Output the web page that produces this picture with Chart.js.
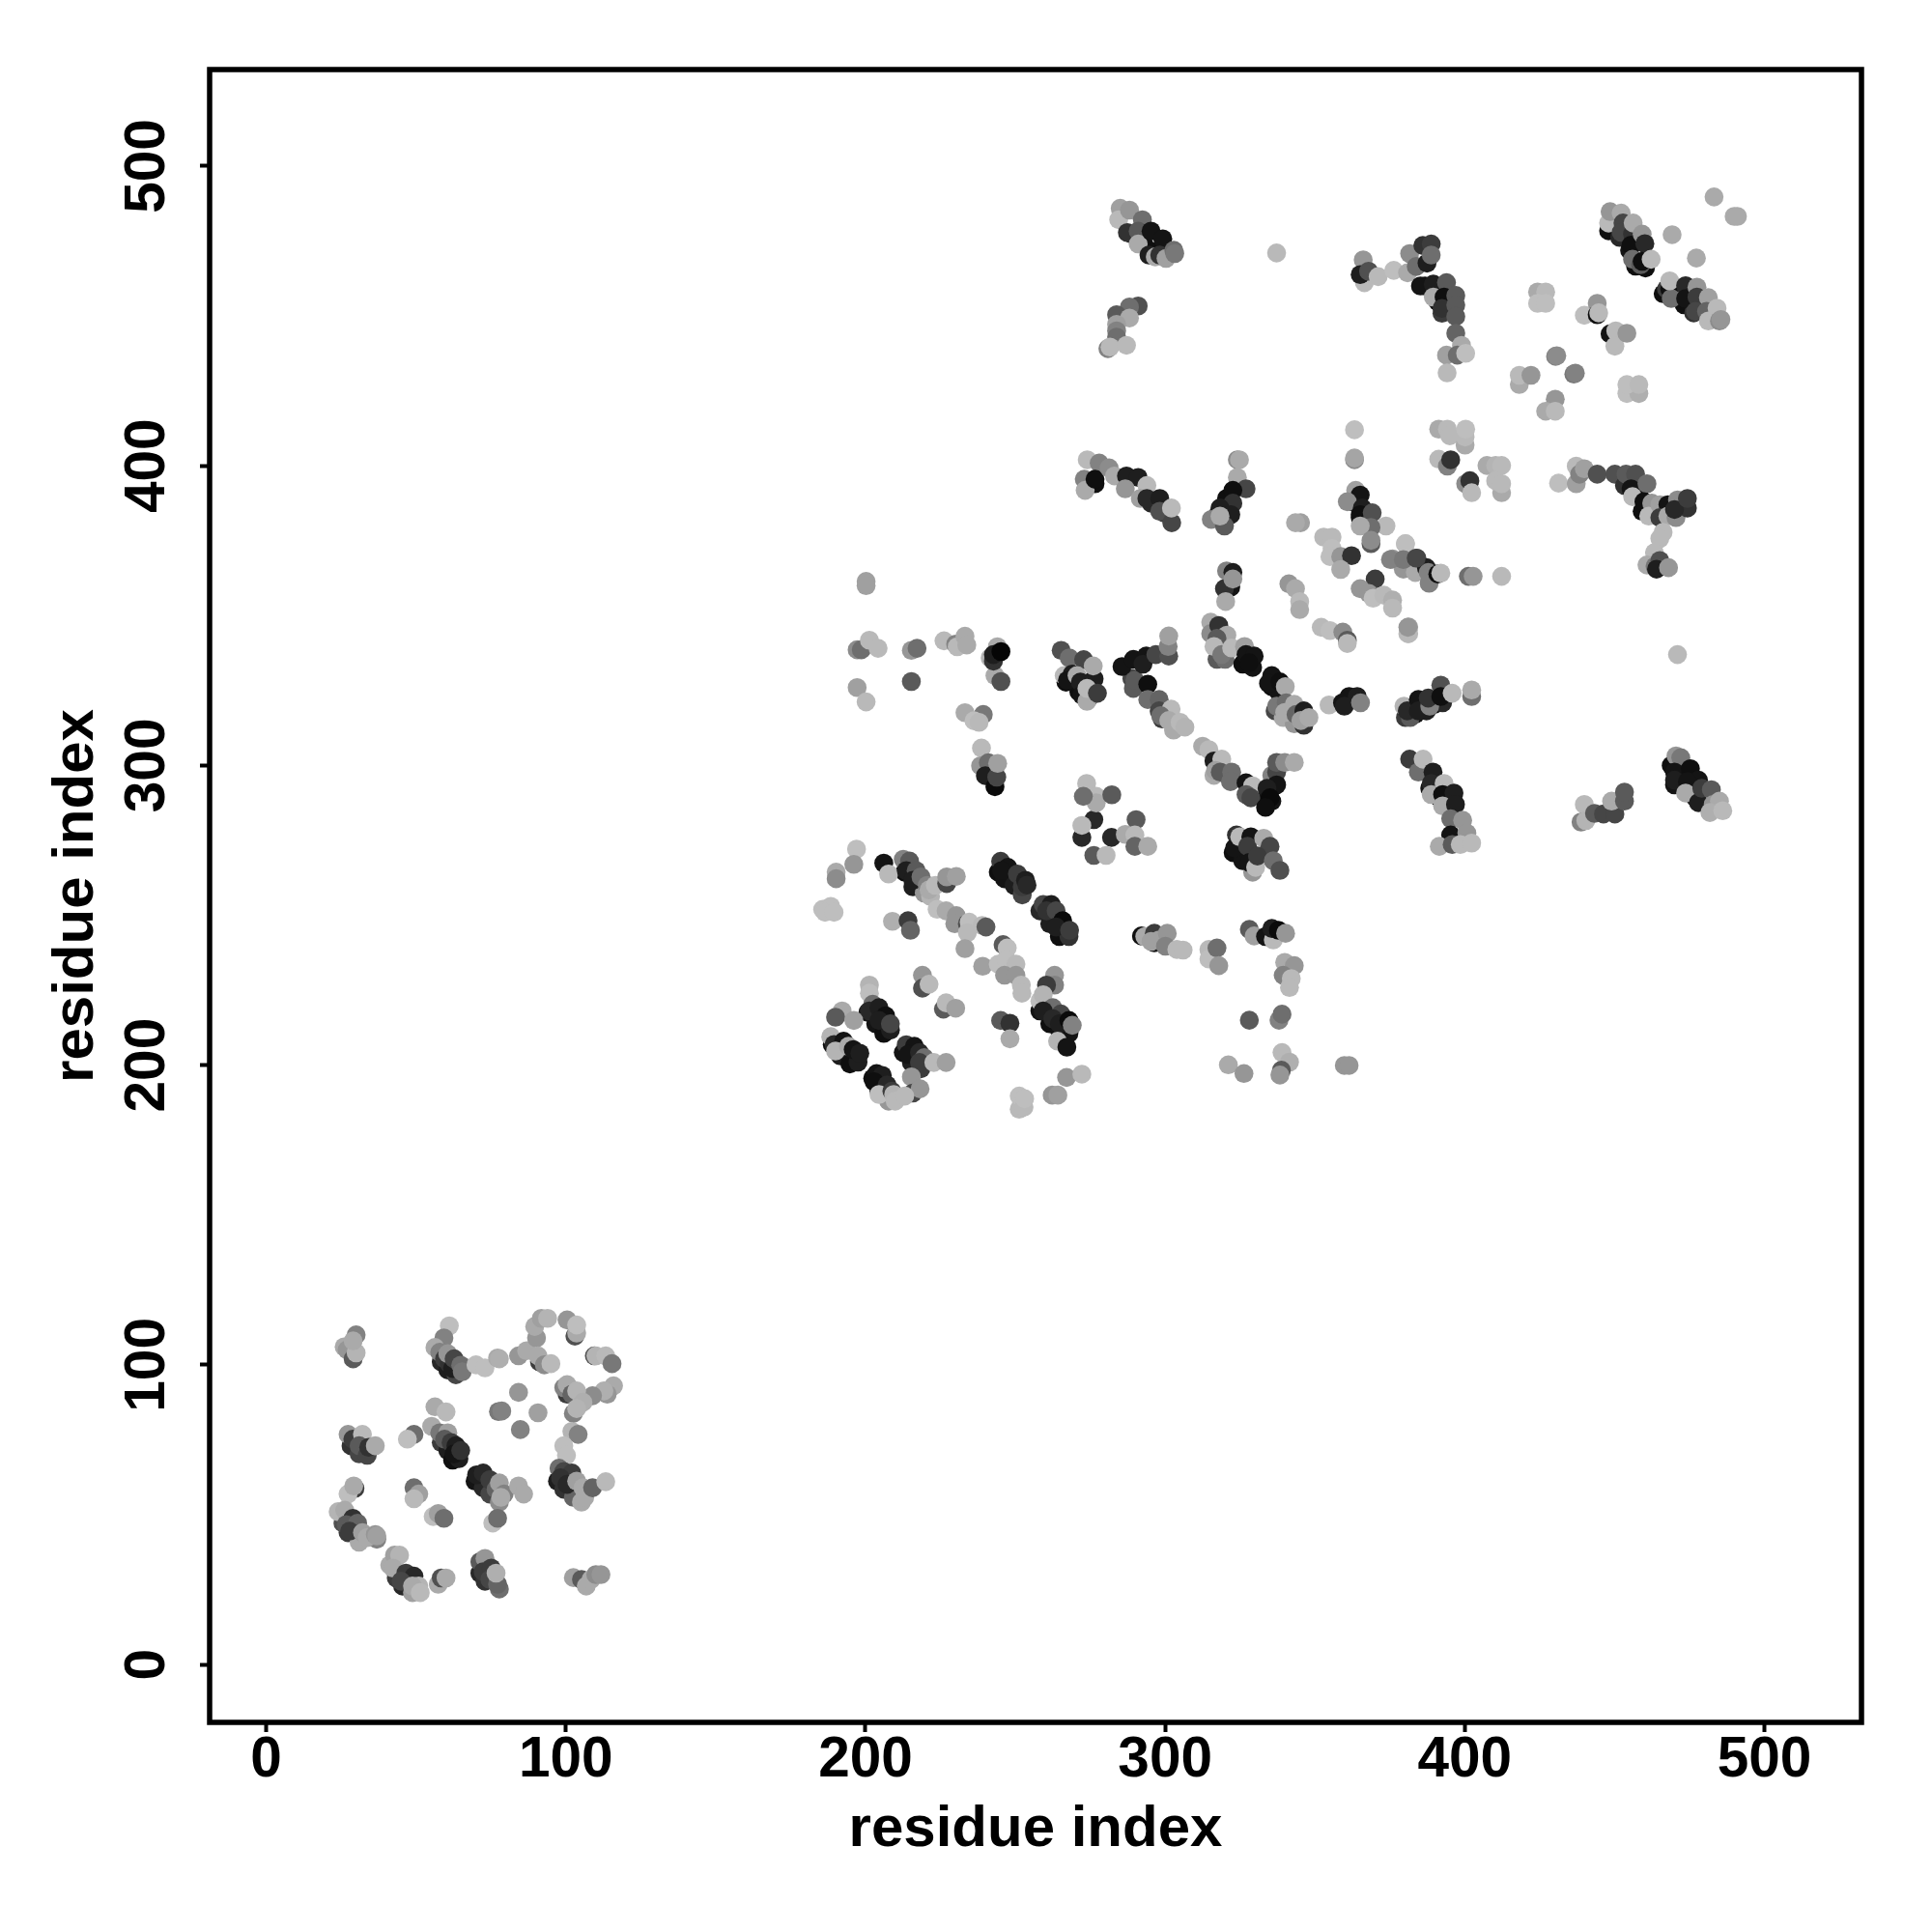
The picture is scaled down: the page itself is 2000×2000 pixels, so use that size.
<!DOCTYPE html>
<html><head><meta charset="utf-8">
<style>html,body{margin:0;padding:0;background:#fff}canvas{display:block}</style>
<script src="https://cdn.jsdelivr.net/npm/chart.js@4/dist/chart.umd.min.js"></script>
</head><body>
<div style="width:2000px;height:2000px"><canvas id="c" width="2000" height="2000"></canvas></div>
<script>
const xTicks=[0,100,200,300,400,500];
const yTicks=[0,100,200,300,400,500];
const axisTitle="residue index";

const u1x=[58.4,60.6,63.3,58.4,60.6,62.2,64.3,69.7,72.4,74.6,77.8,97.2,99.3,102.5,105.2,25.6,27.3,31,36.9,41.2,43.4,45.5,48.8,71.3,73,77.8,28.3,31,100.4];
const u1y=[101,98.3,96.7,74.1,71.4,68.2,68.7,61.2,59,56.9,54.2,61.2,58.5,55.8,54.2,47.2,44,40.8,41.8,33.2,28.9,26.2,24,30.5,27.8,25.2,73,70.3,90.2];
const u1g=[40,30,70,60,30,15,30,20,40,70,140,30,50,100,170,80,60,170,130,170,60,40,160,40,50,110,50,70,60];
const u2x=[213.1,215.8,219.6,221.7,244.3,246.4,249.6,252.3,258.2,261.5,264.7,267.9,200.8,203.4,206.1,208.3,188.9,191.6,194.8,197.5,212.6,215.3,218.5,202.4,204.5,207.7,258.2,261.5,264.7,267.9];
const u2y=[264.4,259.5,257.4,256.3,264.4,262.2,260,256.8,251.5,247.2,242.9,242.9,217.6,213.8,210.6,211.7,206.9,203.1,200.4,201,204.2,200.9,198.8,195.6,191.3,188,218.1,213.8,211.7,210.6];
const u2g=[15,30,150,180,15,20,30,70,40,30,15,50,20,20,15,30,15,30,15,30,20,30,60,15,20,150,20,15,15,20];
const u3x=[335.6,337.8,336.7,339.4,343.1,346.3,317.3,320,325.9,329.2,316.3,332.4,335.6,336.7,322.7,325.9,329.2,288.9,289.4,299,302.8];
const u3y=[326.3,324.7,318.2,316,313.9,313.4,335.4,335.4,333.8,332.7,296.7,290.3,288.1,294.5,270.9,268.2,264.4,329,325.7,315.5,311.8];
const u3g=[15,20,70,170,150,50,90,110,15,20,170,15,20,40,15,20,150,70,90,60,170];
const u4x=[380.2,383.5,387.2,389.9,392.6,388.3,391.5,395.8,468.9,470,472.1,475.3,477,448,451.7,455,457,460.3,466.2,473.2,476.4];
const u4y=[316,317.1,318.2,320.4,320.9,292.4,289.2,285.4,300,293.5,296.7,293.5,289.2,478.4,476.2,471.9,466.6,466,457.4,453.7,451];
const u4g=[60,15,30,15,40,20,15,30,15,20,15,15,30,15,40,20,15,15,15,15,50];
const u5x=[288.8,293.1,296.7,386.7,391,392.4,276.6,295.3,299.6,320.5,317.6,362.2,365.1,458.1,459.2,467.8,466.2,266.9,271.2,274.4];
const u5y=[477.3,473.5,471.4,460,454.7,450.9,394,387.5,384.3,389.1,383.7,388,382.7,390.2,384.8,384.8,385.9,327.8,324.6,322.4];
const u5g=[40,15,15,15,15,60,15,40,60,15,30,60,15,15,15,15,20,15,15,20];

const a1x=[26,27,29,30,30,29,61.1,59.3,56.3,57.9,59.5,61.1,62.2,60.6,62.7,64.9,65.4];
const a1y=[106,105,102,104,110,108,113,109,105.8,104.2,102,100.4,98.8,103.7,102,99.9,97.7];
const a1g=[170,150,90,180,130,170,190,130,170,130,60,50,30,150,70,110,120];
const a2x=[70,73,77.2,77.8,84.2,86.9,90.2,89.6,91.8,93.9,91.2,90.7,92.8,95,100.4,103,103.6,103.6];
const a2y=[100,99,102.3,102,103,104.7,109,112.8,115.5,115.5,101,103,100,100.4,115,109.6,110.6,113.3];
const a2g=[190,190,170,175,150,170,150,170,160,180,60,170,140,185,150,80,170,190];
const a3x=[109.5,110,113.3,115.4,115.9,113.8,112.7,108.9,99.3,100.4,102,103.6,105.7,102.5,103.6];
const a3y=[103,103,103,100.4,93,90.2,91.3,89.7,92.4,93.4,90.2,91.3,87.5,83.8,85.4];
const a3g=[80,180,185,120,170,150,175,140,130,170,100,180,175,130,180];
const a4x=[102,104.1,99.3,100.2,84.2,77.5,78.6,90.7,84.8,56.3,60,55.2,57.9,60.6,59.5,61.7,63.3,62.7,64.9,49.3,47.1];
const a4y=[77.8,76.8,73,69.8,90.8,84.4,84.6,84,78.4,86,84.3,79.5,77.3,77.3,75.2,74.1,73,70.3,71.4,76.8,75.2];
const a4g=[180,130,190,190,150,120,130,160,130,170,185,170,120,160,90,60,30,20,50,110,190];
const a5x=[70.2,72.4,74.6,76.7,77.8,79.4,78.3,84.2,85.9,27.3,28.9,32.1,31,33.7,34.2,36.4];
const a5y=[63.3,63.9,61.7,58.5,60.6,56.9,55.8,59.6,56.9,76.8,75.2,76.8,73,69.8,72.5,73];
const a5g=[30,40,60,100,160,130,170,170,170,150,60,185,90,70,50,170];
const a6x=[29.6,27.3,29.2,24,26.2,28.9,26.7,30.5,27.8,32.1,33.7,36.4,36.9];
const a6y=[58.8,56.9,59.6,51,51.5,48.8,46.7,47.2,44.5,44,42.4,43.4,42.9];
const a6g=[60,190,170,180,170,50,90,100,60,160,170,150,160];
const a7x=[42.8,44.5,42.3,46.6,49.3,45,50.9,48.8,51.4,57.4,58.4,60];
const a7y=[36.5,36.5,32.2,30.5,29.5,27.8,26.2,26.2,24,26.8,28.9,28.9];
const a7g=[160,180,170,60,40,70,180,170,185,170,80,170];
const a8x=[49.3,50.9,49.3,55.7,57.4,59.3,75.6,77.2,71.3,73,72.4,75.1,74.6,77.2,76.7];
const a8y=[59,56.9,55.3,49.4,50.4,48.8,47.2,48.8,34.3,35.4,31,32.2,28.4,26.8,30.5];
const a8g=[110,160,185,190,160,110,190,110,90,150,60,60,70,100,175];
const a9x=[102.5,105.2,106.8,108.4,110,111.7,97.7,99.3,102,98.2,100.4,103.6,105.7,106.3,108.9,113.3];
const a9y=[29,28.4,26.2,28.4,30,30,65.5,64.4,63.9,62.3,60.1,61.2,59,55.8,59,61];
const a9g=[160,90,170,170,140,150,110,70,60,50,40,160,170,170,100,185];

const b1x=[197,196.1,190.2,190.2,185.7,188.4,186.5,189.5,206.1,207.7,212.6,214.7,213.6,216.9,215.8,218.5,220.6,221.2,223.3,227.1,227.1,230.3];
const b1y=[272.1,267,264.4,262.2,252,253,251,251,267.4,263.8,268.7,268.1,264.9,264.9,261.7,262.8,260,258.5,260,260.6,262.8,263];
const b1g=[190,150,170,140,190,190,190,190,20,185,130,90,30,90,30,110,130,170,185,70,150,160];
const b2x=[245.1,247.5,245.4,250.7,252.3,253.4,253.9,259.3,262,260.4,263.6,265.8,263.6,268.1,209,214.2,215];
const b2y=[268,266,264.9,263.8,259.5,261.7,260.1,253.6,253.6,251.5,251.5,248.2,246.1,245,248,248.2,245];
const b2g=[60,20,20,60,60,30,40,70,30,50,70,10,30,60,175,60,100];
const b3x=[223.9,226.9,230.3,229.8,234,234.6,234,238.9,240.2,233.2,245.9,247.3,239.1,244.3,247,250.2,246.4,250.2,252,252.2];
const b3y=[252,251.5,249.9,247.2,247.2,247.7,244.2,246.6,246.1,238.9,240.2,239.1,233,233.7,235.3,233.7,230,230,226.7,224];
const b3g=[190,170,150,150,80,190,185,185,90,160,90,190,160,190,190,185,150,150,185,185];
const b4x=[263.1,263.1,260.4,258.2,259.3,262.5,259.3,265.2,262.5,264.7,267.9,269,245.1,248.2,248.2,264.1,267.2];
const b4y=[230,226.7,226.7,221.4,223.5,219.2,218.1,217.1,215.5,213.8,214.9,213.3,214.9,214,208.8,208,206];
const b4g=[150,130,60,190,180,110,30,70,40,30,10,130,90,50,170,180,20];
const b5x=[219,219,221.2,226,226.9,230.1,201.3,201.3,202.4,201.3,204.5,206.7,204.5,208.3];
const b5y=[230,225.7,227,218.7,220.8,219,226.7,224,220.3,218.1,219.2,216.5,214.9,213.8];
const b5g=[150,80,185,90,185,160,180,190,110,40,30,15,30,70];
const b6x=[192.2,190,196.1,188.4,189.5,192.7,190,194.3,195.9,198.1,213.6,216.3,214.2,218,219.6,218,222.8,226.9];
const b6y=[218.1,216,214.9,209.5,206.9,208,204.7,206.3,205.2,204,206.8,206.3,203.6,204.2,202.5,200.9,200.9,200.9];
const b6g=[170,90,160,180,40,20,180,170,20,30,60,20,20,40,110,60,185,160];
const b7x=[203.7,205.6,202.9,207.2,204.5,208.8,209.4,209.9,215.3,215.8,218.2,213.1,251.3,251.3,252.9,253.1,267.1,272.2,262.3,264.2];
const b7y=[197.2,196.6,194.5,193.4,190.2,191.3,190.2,188,196.1,190.7,192.1,189.7,185.3,189.7,186,188.8,195.9,197,190,190];
const b7g=[20,30,15,40,190,60,180,185,150,70,150,185,185,190,185,190,150,185,150,160];

const c1x=[200.2,200.2,197.2,200.2,215.3,197.2,198.6,201.3,204.2,215.3,217.2,226.2,230.1,230.6,233.2,233.8];
const c1y=[361.4,360,326,321.2,328,338.6,338.6,341.8,339.1,338.4,339.1,341.6,340.5,339.6,343.1,340.2];
const c1g=[160,160,160,185,90,140,110,185,185,150,110,185,130,185,170,170];
const c2x=[244,241.6,243.2,245.2,242.7,242.7,245.2,233.2,239.3,236.2,237.9,238.7,238.4,241,240,243.2,243.8,244.1];
const c2y=[339.6,335.9,330,328,334.8,337,338,317.6,317,314.9,314.4,305.8,299.9,300.9,296.6,292.9,296.1,300.7];
const c2g=[170,180,170,80,50,30,5,170,120,190,185,185,150,110,30,10,70,160];
const c3x=[265.3,268,272.8,266.3,269,267.4,270.6,271.7,276.3,276,272.2,273.9,273.9,277.4];
const c3y=[338.4,335.9,335.3,330,330.5,328.4,330,327.8,328.9,333.2,323.5,321.4,325.7,324.1];
const c3g=[80,110,70,185,30,20,170,30,30,170,20,170,185,60];

const d1x=[285.6,289.4,289.9,293.7,292.6,296.9,301.2,301,301.2,294.2,294.2,298,298,302,298.5,301.2,305,306.6];
const d1y=[333,335.4,328.4,336.5,333.8,337,336.5,339.7,343.2,327.1,322,322,318.2,318.8,316.6,315,314.4,312.8];
const d1g=[20,20,90,20,30,70,80,130,160,15,110,100,70,185,110,170,185,180];
const d2x=[315.2,315.2,317.9,320.6,317.3,316.3,318.9,322.2,326.5,327,329.7,328];
const d2y=[347.8,344,346.7,343.5,342.4,339.7,337,339.2,339.7,337,336.5,334.3];
const d2g=[170,140,50,170,90,185,120,185,160,20,20,15];
const d3x=[335.6,334.5,338.3,340.1,337.2,340.4,339.9,343.1,343.7,346.3,345.3,348,354.7,359.2,361.4,364.1,359.8,365.2];
const d3y=[330,327.4,327.9,326.3,319.8,320.9,317.7,320.4,317,318.2,315,316,320.2,320.9,323,323,319.8,320.9];
const d3g=[20,20,15,170,120,110,170,170,100,30,160,170,185,20,20,30,30,130];
const d4x=[312.5,314.6,316.3,318.9,316.8,318.4,322.2,321.8,327,329.2,327,328.6,335.6,337.2,337.2,339.9,343.1,337.2,334,335,333.5];
const d4y=[306.4,305.3,301.5,302.1,298.3,297.8,297.8,294.6,294.2,293.2,290.3,289.2,296.7,297.8,301,301,301,293.5,292.4,289.2,286];
const d4g=[170,185,30,185,160,90,110,110,20,185,90,70,130,70,90,140,170,20,30,10,15];
const d5x=[323.8,323.2,324.9,328.6,327.5,328.1,332.9,335,330.2,330.8,336.1,338.3];
const d5y=[276.8,272.5,276.2,276.2,273,267.6,275.7,273,266,269.8,268.2,265];
const d5g=[50,20,185,20,60,20,170,70,185,60,110,80];
const d6x=[276.2,282.1,276.2,280.3,290.3,286.7,289.9,289.9,294.2,273.8,277,277,282.2,272.7,272.2,272.2];
const d6y=[281.9,276,270,270,281.9,277,276.8,273,273,294,289.7,287.5,290.2,289.7,276,280];
const d6g=[40,40,90,185,90,170,185,100,170,185,185,170,90,110,40,185];
const d7x=[292.1,293.2,296.4,296.4,295.3,298,300.7,300.1,303.9,306,314.6,314.6,317.3,317.9];
const d7y=[243.1,242.9,244,240.8,241.3,241.8,244,239.7,238.6,238.4,238.6,235.4,239.1,233.2];
const d7g=[15,170,60,20,160,160,150,130,185,185,185,190,110,150];
const d8x=[328.1,329.7,333.5,336.1,335.6,337.8,340.2,339.9,343.1,339.4,342.1,341.5,328.1,338,339,321.1,326.3,339,341.5,338.8,338.3,359.8,361.4];
const d8y=[245.3,243.1,242.9,241.8,245.6,245,244,234.3,233.2,230,228.9,225.9,215,215,217,200.1,197.2,204.2,201,198.3,196.7,199.9,199.9];
const d8g=[90,160,20,185,30,10,150,170,150,130,185,185,90,130,110,170,150,185,175,90,150,150,150];

const e1x=[471,381.3,381.3,379.7,381.8,380.8,384.5,384.5,388.3,387.8,392,392,395.8,402.3,402.3];
const e1y=[337,344,346.2,319.8,316,318.2,322,318.2,319.8,322.5,326.8,323,324.1,323,325.2];
const e1g=[185,185,160,180,90,40,20,30,130,50,80,15,185,110,170];
const e2x=[381.6,384.5,386.1,389.4,388.8,393.1,388.8,392.6,396.4,392.6,396.9,395.3,399.3,395.3,391.5,395.8,400.7,398.5,402.3];
const e2y=[302.1,297.8,302.1,297.8,294,294,290.3,290.3,290.8,286.5,287,282.2,281.7,276.8,273,273.6,277.4,273.6,274.1];
const e2g=[60,110,185,30,40,185,170,15,30,170,30,110,150,20,170,90,150,185,185];
const e3x=[439.9,438.8,440.4,443.3,446.3,450.1,449,453.3,453.3];
const e3y=[287,281.1,281.6,284,283.8,283.8,288.1,288.1,291.1];
const e3g=[185,130,180,90,70,70,170,90,90];
const e4x=[470.5,472.1,470,470,475.3,478,474.3,473.7,478,479.1,482.3,482.9,485,481.8,486.1];
const e4y=[303.2,302.6,297.8,295.1,298.9,295.1,294.6,290.8,287.6,292.4,291.9,287,288.1,284.3,284.9];
const e4g=[150,120,20,30,15,20,20,170,30,60,90,150,170,175,185];

const f1x=[448,448.5,452.2,452.8,452.2,456,456.2,455.5,459.2,460.1,456,458.7,459.2,462.2];
const f1y=[481,484.8,484.3,481,477.9,477.3,481,473.6,477.3,474.1,468.9,467.1,468.2,468.9];
const f1g=[185,150,170,70,70,50,170,15,150,40,110,90,15,185];
const f2x=[483.2,489.9,491,469.2,477.3,467.3,468.4,468.9,468.4,473.7,473.7,477.5,477.5,477,481.3,480.7,484.2,481.3,485,485.5];
const f2y=[489.7,483.2,483.2,477.1,469.3,459,459,455.8,461.7,460.1,455.8,459.6,456.3,451.5,456.1,451.5,452.6,448.3,448.3,448.8];
const f2g=[170,170,170,170,170,60,15,110,185,40,20,150,60,70,160,100,185,185,140,150];
const g1x=[424.3,427,424.3,427,439.9,444.2,444.2,444.7,448.5,450.4,450.1,454.1,430.3,430.7,436.4,436.9];
const g1y=[458,458,454.2,454.2,450.2,454.2,450.4,451,444,445,439.9,444.2,436.5,436.7,430.6,430.9];
const g1g=[170,185,190,190,190,150,15,185,20,185,185,150,130,140,120,130];
const g2x=[418.2,418.2,422.1,430.2,427,430.2,454.1,458.1,454.1,458.1];
const g2y=[427.1,430.2,430.2,422.2,418.2,418.2,424.1,424.1,427.1,427.1];
const g2g=[170,185,150,150,170,185,190,175,190,185];

const h1x=[285,284.5,288.1,287.4,292.4,291,291,295.3,294.6,296.7,299.2,298.2,300.3,302.9,303.2];
const h1y=[485.9,482.1,485.3,477.8,482.1,478.3,474,478.3,470.3,469.7,475.7,470.3,469.2,471.9,470.8];
const h1g=[160,185,150,50,110,90,170,20,30,170,20,50,160,110,120];
const h2x=[291,288.1,283.8,288.1,283.8,283.8,283.8,280.9,281.6,287.1,337.2];
const h2y=[453.3,453,450.4,449.3,447.2,445,442.9,439.1,439.6,440.2,471];
const h2g=[80,110,90,170,160,130,110,130,185,185,185];
const h3x=[366.1,366.5,365.1,367.9,371.1,376.3,380.9,381.6,383.8,386,388.8,387.4,388.8,385.2,389.5,393.9,389.5,393.1,392.4,397,397,397];
const h3y=[468.7,461.1,463.8,464.9,463.1,465.2,464.4,470.8,466.5,473.5,474,467.6,470.3,460,460.6,461.1,456.3,456.3,452.5,456.8,453.6,449.8];
const h3g=[150,185,30,80,185,190,170,140,110,50,60,30,110,20,30,90,170,15,50,90,90,90];
const h4x=[397,393.9,398.9,397.5,400.3,394.1];
const h4y=[444.2,436.9,440.2,436.9,437.5,431];
const h4g=[100,160,170,110,190,185];

const i1x=[391.3,394.2,395,400.1,400.1,400.3,391.3,394.2,395.3,400.3,401.7,402.3,407.4,410.3,412.3,412.3,410.3,412.3];
const i1y=[412.2,412.2,410,406.9,409.6,412.2,402.2,399.9,402,394,395,391,400.1,400.1,400.1,391,395,394];
const i1g=[170,185,185,170,185,190,185,130,50,140,50,185,170,180,185,170,185,185];
const j1x=[431.3,437.2,437.2,438.3,439.9,444.2,450.1,453.3,453.8,457,455.5,456,460.8,459.8,462.4,461.4,465.1,467.8,465.1,467.8];
const j1y=[394.2,399.9,394,397.2,399,397.2,397.2,393.4,397.2,397.2,392.3,389.7,394,388,387.5,383.2,387,387,382.7,383.2];
const j1g=[190,185,160,130,160,80,80,50,90,80,20,185,110,15,150,185,160,20,60,170];
const j2x=[470.5,471,474.3,470,474.3,466.2,465.1,463.3,460.8,463.5,465.1,464,468];
const j2y=[382.7,388.6,385.9,385.4,389.1,377.8,375.7,371,366.9,366.5,368.4,365.5,366];
const j2g=[140,140,50,40,60,185,185,185,170,120,80,30,150];
const k1x=[380.2,375.9,379.5,379.5,384,383.5,387.2,387.8,388.1,391,392,401.2,402.8,412.3];
const k1y=[374,368.9,368.7,365.5,369.2,364.4,366,364.4,360.8,363.9,364.2,363.1,363.1,363.1];
const k1g=[185,150,140,150,70,170,30,130,130,15,185,110,150,185];

const l1x=[273,273.3,274,278,276.6,281.3,283.1,287.1,291,286.7,293.9,291.7,293.9,298.2,298.2,302.2,302.1];
const l1y=[395.5,391.8,402,400.9,395.5,399.3,396.6,396.6,396.1,392.3,393.4,389.1,389.1,389.1,384.8,381,385.9];
const l1g=[130,170,185,130,15,140,170,30,30,150,185,160,40,30,80,70,185];
const m1x=[324.1,324.8,324.1,327,322.6,322.6,318.3,321.9,315.4,319.8,318.3];
const m1y=[402,402,396.1,392.3,391.8,387.5,385.9,383.7,382.1,379.9,383.2];
const m1g=[140,170,170,70,15,50,30,30,130,90,170];
const n1x=[363.2,363.2,363.2,363.6,365.1,360.8,365.8,365.1,369.1,373.7,368.7,365.1,368.7,368.7,345.2,343.5,352.9,355.7,355.7,355,358.6,362.2,358.6,380.2];
const n1y=[412,402,402.6,391.8,390.2,388,385.9,383.7,384.3,379.9,379.4,379.9,374,375.1,381,381,376.2,376.2,372.4,369.7,369.7,370,365.4,374];
const n1g=[190,140,165,160,20,140,30,15,80,185,110,170,90,140,160,170,185,185,190,190,150,50,170,190];
const n2x=[375.2,379.5,383.8,370.1,365.1,368,369.4,373,375.9,375.9,341.3,343.5,344.9,344.9,352.1,355,359.3,360.8,360.8,381,381];
const n2y=[368.7,368.7,369.2,362.2,359,357.4,355.8,356.8,355.2,352.5,360.6,359,354.7,352,346.1,345,344.5,341.8,340.7,344,346.1];
const n2g=[130,120,70,60,150,150,190,185,175,185,150,170,185,170,185,190,140,90,185,185,150];
const n3x=[320.5,322.6,321.9,319.8,322.6,320.2];
const n3y=[364.9,364.4,359.5,359,362.2,354.7];
const n3g=[130,30,20,50,150,170];

const groups=[
 [u1x,u1y,u1g],[u2x,u2y,u2g],[u3x,u3y,u3g],[u4x,u4y,u4g],[u5x,u5y,u5g],
 [a1x,a1y,a1g],[a2x,a2y,a2g],[a3x,a3y,a3g],[a4x,a4y,a4g],[a5x,a5y,a5g],[a6x,a6y,a6g],[a7x,a7y,a7g],[a8x,a8y,a8g],[a9x,a9y,a9g],
 [b1x,b1y,b1g],[b2x,b2y,b2g],[b3x,b3y,b3g],[b4x,b4y,b4g],[b5x,b5y,b5g],[b6x,b6y,b6g],[b7x,b7y,b7g],
 [c1x,c1y,c1g],[c2x,c2y,c2g],[c3x,c3y,c3g],
 [d1x,d1y,d1g],[d2x,d2y,d2g],[d3x,d3y,d3g],[d4x,d4y,d4g],[d5x,d5y,d5g],[d6x,d6y,d6g],[d7x,d7y,d7g],[d8x,d8y,d8g],
 [e1x,e1y,e1g],[e2x,e2y,e2g],[e3x,e3y,e3g],[e4x,e4y,e4g],
 [f1x,f1y,f1g],[f2x,f2y,f2g],[g1x,g1y,g1g],[g2x,g2y,g2g],
 [h1x,h1y,h1g],[h2x,h2y,h2g],[h3x,h3y,h3g],[h4x,h4y,h4g],
 [i1x,i1y,i1g],[j1x,j1y,j1g],[j2x,j2y,j2g],[k1x,k1y,k1g],
 [l1x,l1y,l1g],[m1x,m1y,m1g],[n1x,n1y,n1g],[n2x,n2y,n2g],[n3x,n3y,n3g]
];
groups.forEach((g,i)=>{ if(g[0].length!==g[1].length||g[0].length!==g[2].length) throw new Error("length mismatch group "+i+" "+g[0].length+" "+g[1].length+" "+g[2].length); });

const datasets=groups.map(([xs,ys,gs],i)=>({
  data:xs.map((x,k)=>({x:x,y:ys[k]})),
  backgroundColor:gs.map(v=>`rgb(${v},${v},${v})`),
  borderWidth:0,pointRadius:9.8,pointHoverRadius:9.8,
  order:groups.length-i
}));

const FONT="'Liberation Sans', Arial, sans-serif";
const frame={id:'frame',afterDraw(ch){const a=ch.chartArea,c=ch.ctx;c.save();c.strokeStyle='#000';c.lineWidth=5.5;c.lineJoin='miter';c.strokeRect(a.left,a.top,a.width,a.height);c.restore();}};

new Chart(document.getElementById('c'),{
  type:'scatter',
  data:{datasets},
  plugins:[frame],
  options:{
    responsive:false,animation:false,
    layout:{padding:{left:0,top:72,right:73,bottom:0}},
    plugins:{legend:{display:false},tooltip:{enabled:false}},
    scales:{
      x:{type:'linear',min:-18.9,max:532.4,
        afterBuildTicks(s){s.ticks=xTicks.map(v=>({value:v}));},
        afterFit(s){s.height=217;},
        grid:{display:true,drawOnChartArea:false,drawTicks:true,tickLength:10,tickWidth:4,tickColor:'#000'},
        border:{display:false},
        ticks:{autoSkip:false,maxRotation:0,minRotation:0,padding:-5,color:'#000',font:{family:FONT,size:58.5,weight:'bold'}},
        title:{display:true,text:axisTitle,color:'#000',font:{family:FONT,size:60,weight:'bold'},padding:{top:0,bottom:70}}
      },
      y:{type:'linear',min:-19.3,max:532.2,
        afterBuildTicks(s){s.ticks=yTicks.map(v=>({value:v}));},
        afterFit(s){s.width=217;},
        grid:{display:true,drawOnChartArea:false,drawTicks:true,tickLength:10,tickWidth:4,tickColor:'#000'},
        border:{display:false},
        ticks:{autoSkip:false,maxRotation:90,minRotation:90,padding:4,crossAlign:'center',color:'#000',font:{family:FONT,size:58.5,weight:'bold'}},
        title:{display:true,text:axisTitle,color:'#000',font:{family:FONT,size:60,weight:'bold'},padding:{top:43,bottom:0}}
      }
    }
  }
});
</script>
</body></html>
